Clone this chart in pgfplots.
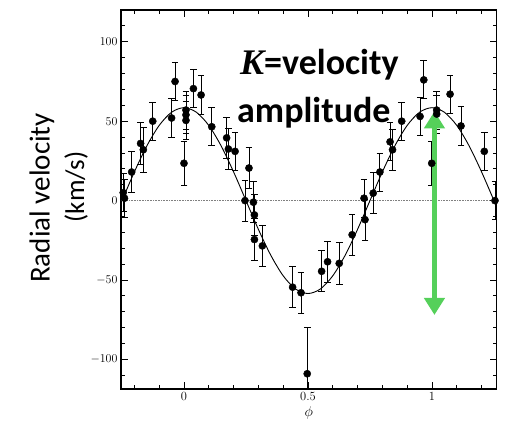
\documentclass[border=0pt]{standalone}
\usepackage{pgfplots}
\pgfplotsset{compat=1.18}
\usepackage{fontspec}
\usetikzlibrary{arrows.meta}
\newfontfamily\carlito{Carlito}
\newfontfamily\timesbi{Liberation Serif}
\definecolor{kgreen}{RGB}{85,208,90}

\pgfplotstableread{
x y e
-0.245 5 12
-0.240 1.5 12
-0.211 18 13
-0.175 36 13
-0.164 32 14
-0.126 50 12
-0.050 52 12
-0.036 75 12
0.000 23.5 14
0.008 57 12
0.008 54 12
0.008 50.5 12
0.038 70.5 12
0.069 66.5 12
0.112 46.5 12
0.172 39.5 13
0.179 32.5 13
0.206 31 12
0.246 0 13
0.262 20.5 13
0.280 -1 13
0.284 -9 13
0.284 -24.5 13
0.316 -28.5 13
0.438 -54.5 13
0.472 -58 13
0.497 -109 29
0.555 -44.5 13
0.579 -38.5 13
0.626 -39.5 13
0.678 -21.5 13
0.726 1.5 12
0.730 -12 13
0.763 4.7 13
0.790 18 12
0.831 37 12
0.841 32 13
0.878 50 12
0.952 53 12
0.967 76 12
0.999 23.5 14
1.019 57 12
1.019 54.5 12
1.073 67 12
1.117 47 12
1.211 31 12
1.254 0 12
}\rvdata

\pgfplotstableread{
x y
-0.25 0
-0.20 18.08
-0.15 34.39
-0.10 47.33
-0.05 55.64
0.00 58.5
0.05 55.64
0.10 47.33
0.15 34.39
0.20 18.08
0.25 0
0.30 -18.08
0.35 -34.39
0.40 -47.33
0.45 -55.64
0.50 -58.5
0.55 -55.64
0.60 -47.33
0.65 -34.39
0.70 -18.08
0.75 0
0.80 18.08
0.85 34.39
0.90 47.33
0.95 55.64
1.00 58.5
1.05 55.64
1.10 47.33
1.15 34.39
1.20 18.08
1.25 0
}\fitcurve

\begin{document}
\begin{tikzpicture}
\begin{axis}[
  name=ax,
  at={(0,0)}, anchor=south west,
  scale only axis,
  width=375.7pt, height=379pt,
  xmin=-0.254, xmax=1.261,
  ymin=-118.6, ymax=120,
  xtick={0,0.5,1},
  xticklabels={0,0.5,1},
  minor xtick={-0.2,-0.1,0.1,0.2,0.3,0.4,0.6,0.7,0.8,0.9,1.1,1.2},
  ytick={-100,-50,0,50,100},
  minor ytick={-110,-90,-80,-70,-60,-40,-30,-20,-10,10,20,30,40,60,70,80,90,110},
  tick align=inside,
  major tick length=7pt,
  minor tick length=4pt,
  tick style={black, line width=0.9pt},
  axis line style={line width=1.3pt},
  ticklabel style={font=\fontsize{12.5}{14}\selectfont},
  xlabel={$\phi$},
  xlabel style={font=\fontsize{15}{17}\selectfont, yshift=1pt},
  clip marker paths=false,
]
\addplot[densely dotted, gray, line width=0.6pt, forget plot] coordinates {(-0.254,0) (1.261,0)};
\addplot[black, line width=0.9pt, smooth] table[x=x,y=y] {\fitcurve};
\addplot[black, only marks, mark=*, mark size=3.6pt,
  error bars/.cd, y dir=both, y explicit,
  error bar style={line width=0.9pt, black},
  error mark options={rotate=90, mark size=3.3pt, line width=0.9pt, black}]
  table[x=x, y=y, y error=e] {\rvdata};
\draw[{Triangle[length=17pt,width=20pt]}-{Triangle[length=17pt,width=20pt]}, line width=5.7pt, kgreen]
  (axis cs:1.01,56.2) -- (axis cs:1.01,-72);
\end{axis}
\node[anchor=base west, inner sep=0pt, font=\fontsize{36}{40}\selectfont] at (119pt,314pt)
  {{\timesbi\bfseries\itshape K}{\carlito\bfseries =velocity}};
\node[anchor=base west, inner sep=0pt, font=\fontsize{36}{40}\selectfont\carlito\bfseries] at (116pt,266pt) {amplitude};
\node[rotate=90, inner sep=0pt, font=\fontsize{29}{32}\selectfont\carlito] at (-79pt,191pt) {Radial velocity};
\node[rotate=90, inner sep=0pt, font=\fontsize{27}{30}\selectfont\carlito] at (-45pt,202pt) {(km/s)};
\pgfresetboundingbox
\path[use as bounding box] (-121pt,-34pt) rectangle (386pt,389pt);
\end{tikzpicture}
\end{document}
